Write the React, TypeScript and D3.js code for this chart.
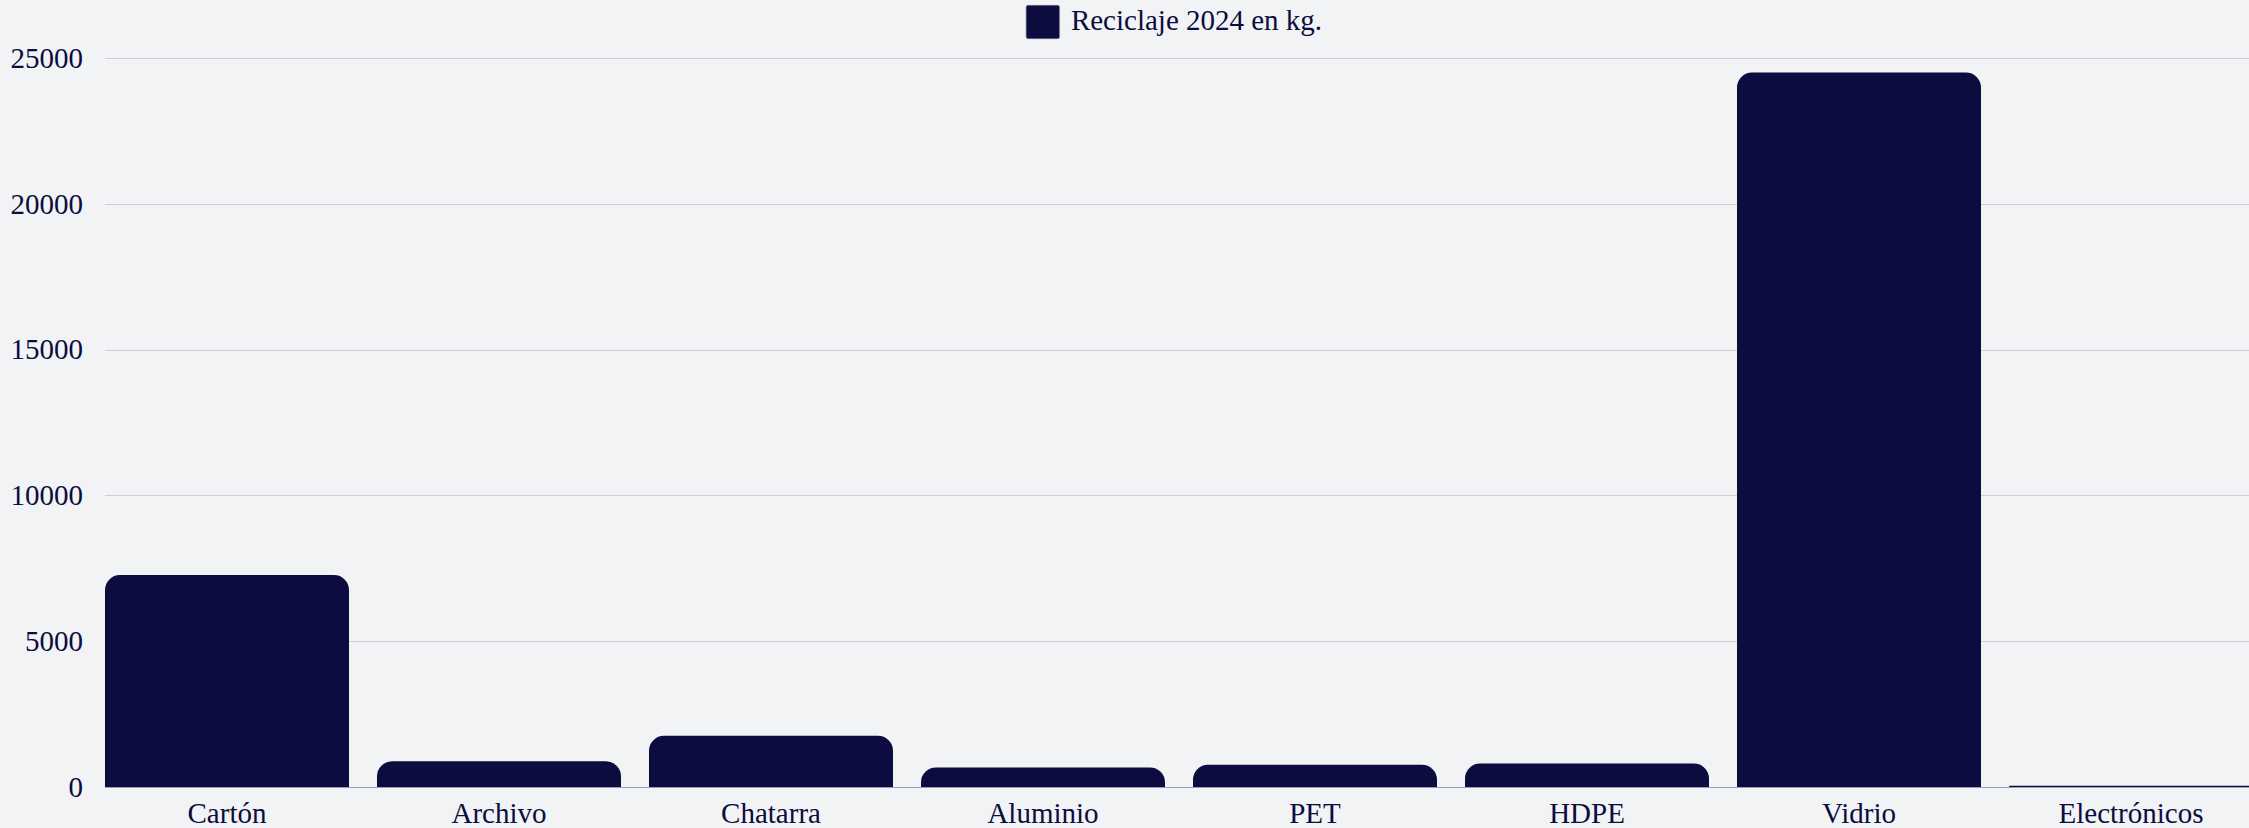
import { useEffect, useRef } from 'react';
import * as d3 from 'd3';

const categories = ['Cartón', 'Archivo', 'Chatarra', 'Aluminio', 'PET', 'HDPE', 'Vidrio', 'Electrónicos'];
const values = [7270, 880, 1755, 670, 760, 805, 24500, 40];
const yTicks = [0, 5000, 10000, 15000, 20000, 25000];
const seriesLabel = 'Reciclaje 2024 en kg.';

const W = 2249;
const H = 828;
const BG = '#f2f3f5';
const INK = '#0c0c3f';
const FONT = '"Liberation Serif", "Times New Roman", serif';

export default function App() {
  const svgRef = useRef<SVGSVGElement>(null);

  useEffect(() => {
    if (!svgRef.current) return;
    document.body.style.margin = '0';
    const svg = d3.select(svgRef.current);
    svg.selectAll('*').remove();

    const margin = { top: 58, right: 0, bottom: 41, left: 105 };
    const bottom = H - margin.bottom;

    const y = d3.scaleLinear().domain([0, 25000]).range([bottom, margin.top]);
    const step = 272;
    const x = d3.scaleBand<string>()
      .domain(categories)
      .range([margin.left, margin.left + step * categories.length - 28])
      .paddingInner(28 / step)
      .paddingOuter(0);

    svg.append('rect').attr('width', W).attr('height', H).attr('fill', BG);

    // Grid lines
    svg.append('g')
      .selectAll('line')
      .data(yTicks)
      .join('line')
      .attr('x1', margin.left)
      .attr('x2', W)
      .attr('y1', d => Math.round(y(d)) + 0.5)
      .attr('y2', d => Math.round(y(d)) + 0.5)
      .attr('stroke', d => (d === 0 ? '#9c9cb6' : '#cdced7'))
      .attr('stroke-width', 1);

    // Y labels
    svg.append('g')
      .selectAll('text')
      .data(yTicks)
      .join('text')
      .attr('x', 83)
      .attr('y', d => y(d))
      .attr('dy', '0.34em')
      .attr('text-anchor', 'end')
      .attr('fill', INK)
      .attr('font-family', FONT)
      .attr('font-size', '29px')
      .text(d => String(d));

    // Bars with rounded top corners
    const r = 15;
    const barPath = (v: number, name: string) => {
      const x0 = x(name)!;
      const x1 = x0 + x.bandwidth();
      const y0 = bottom;
      const y1 = y(v);
      const h = y0 - y1;
      const rr = Math.min(r, h, x.bandwidth() / 2);
      const p = d3.path();
      p.moveTo(x0, y0);
      p.lineTo(x0, y1 + rr);
      p.arcTo(x0, y1, x0 + rr, y1, rr);
      p.lineTo(x1 - rr, y1);
      p.arcTo(x1, y1, x1, y1 + rr, rr);
      p.lineTo(x1, y0);
      p.closePath();
      return p.toString();
    };

    svg.append('g')
      .selectAll('path')
      .data(values)
      .join('path')
      .attr('d', (d, i) => barPath(d, categories[i]))
      .attr('fill', INK);

    // X labels
    svg.append('g')
      .selectAll('text')
      .data(categories)
      .join('text')
      .attr('x', d => x(d)! + x.bandwidth() / 2)
      .attr('y', 823)
      .attr('text-anchor', 'middle')
      .attr('fill', INK)
      .attr('font-family', FONT)
      .attr('font-size', '29px')
      .text(d => d);

    // Legend
    const legend = svg.append('g');
    legend.append('rect')
      .attr('x', 0).attr('y', 5)
      .attr('width', 34).attr('height', 34)
      .attr('rx', 2)
      .attr('fill', INK)
      .attr('stroke', '#d8d8e2')
      .attr('stroke-width', 0.8);
    const lt = legend.append('text')
      .attr('x', 45)
      .attr('y', 30)
      .attr('fill', INK)
      .attr('font-family', FONT)
      .attr('font-size', '29px')
      .text(seriesLabel);
    const tw = (lt.node() as SVGTextElement).getComputedTextLength();
    const total = 45 + tw;
    const cx = 1174;
    legend.attr('transform', `translate(${cx - total / 2},0)`);
  }, []);

  return (
    <svg
      ref={svgRef}
      width={W}
      height={H}
      style={{ position: 'absolute', left: 0, top: 0, display: 'block' }}
    />
  );
}
